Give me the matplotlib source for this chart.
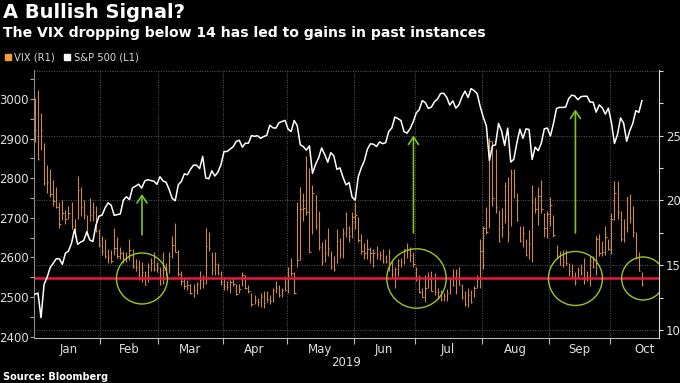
import matplotlib
matplotlib.use("Agg")
import matplotlib.pyplot as plt
import numpy as np
import pandas as pd

# ---------------- data (Dec 31 2018 .. Oct 15 2019, trading days) ----------------
spx_close = [
    2506.85,
    2510.03, 2447.89, 2531.94, 2549.69, 2574.41, 2584.96, 2596.64, 2596.26, 2582.61, 2610.30, 2616.10,
    2635.96, 2670.71, 2632.90, 2638.70, 2642.33, 2664.76, 2643.85, 2640.00, 2681.05, 2704.10,
    2706.53, 2724.87, 2737.70, 2731.61, 2706.05, 2707.88, 2709.80, 2744.73, 2753.03, 2745.73,
    2775.60, 2779.76, 2784.70, 2774.88, 2792.67, 2796.11, 2793.90, 2792.38, 2784.49,
    2803.69, 2792.81, 2789.65, 2771.45, 2748.93, 2743.07, 2783.30, 2791.52, 2810.92, 2808.48,
    2822.48, 2832.94, 2832.57, 2824.23, 2854.88, 2800.71, 2798.36, 2818.46, 2805.37, 2815.44, 2834.40,
    2867.19, 2867.24, 2873.40, 2879.39, 2892.74, 2895.77, 2878.20, 2888.21, 2888.32, 2907.41,
    2905.58, 2907.06, 2900.45, 2905.03, 2907.97, 2933.68, 2927.25, 2926.17, 2939.88, 2943.03, 2945.83,
    2923.73, 2917.52, 2945.64, 2932.47, 2884.05, 2879.42, 2870.72, 2881.40, 2811.87, 2834.41, 2850.96,
    2876.32, 2859.53, 2840.23, 2864.36, 2856.27, 2822.24, 2826.06, 2802.39, 2783.02, 2788.86, 2752.06,
    2744.45, 2803.27, 2826.15, 2843.49, 2873.34, 2886.73, 2885.72, 2879.84, 2891.64, 2886.98,
    2889.67, 2917.75, 2926.46, 2954.18, 2950.46, 2945.35, 2917.38, 2913.78, 2924.92, 2941.76,
    2964.33, 2973.01, 2995.82, 2990.41, 2975.95, 2979.63, 2993.07, 2999.91, 3013.77, 3014.30, 3004.04,
    2984.42, 2995.11, 2976.61, 2985.03, 3005.47, 3019.56, 3003.67, 3025.86, 3020.97, 3013.18, 2980.38,
    2953.56, 2932.05, 2844.74, 2881.77, 2883.98, 2938.09, 2918.65, 2882.70, 2926.32, 2840.60, 2847.60,
    2888.68, 2923.65, 2900.51, 2924.43, 2922.95, 2847.11, 2878.38, 2869.16, 2887.94, 2924.58, 2926.46,
    2906.27, 2937.78, 2976.00, 2978.71, 2978.43, 2979.39, 3000.93, 3009.57, 3007.39, 2997.96,
    3005.70, 3006.73, 3006.79, 2992.07, 2991.78, 2966.60, 2984.87, 2977.62, 2961.79, 2976.74,
    2940.25, 2887.61, 2910.63, 2952.01, 2938.79, 2893.06, 2919.40, 2938.13, 2970.27, 2966.15, 2995.68,
]

vix_high = [
    27.9,
    28.5, 26.7, 24.4, 22.7, 22.4, 21.6, 21.0, 19.9, 20.0, 19.3, 19.6, 19.9, 18.6, 21.9, 21.0, 20.0, 18.9, 20.2, 19.9, 19.6, 17.8,
    17.3, 17.0, 16.3, 16.2, 17.9, 17.2, 16.4, 16.1, 16.0, 17.0, 16.3, 15.5, 15.4, 15.3, 14.6, 15.2, 15.6, 16.0, 15.3,
    14.9, 16.0, 15.2, 16.0, 17.3, 18.3, 16.2, 14.6, 14.0, 13.9, 13.6, 13.6, 13.7, 14.6, 14.3, 17.9, 17.6, 16.0, 16.0, 15.2, 14.6,
    14.1, 13.8, 13.9, 14.0, 13.6, 13.6, 14.5, 14.3, 13.5, 12.9, 12.7, 12.5, 12.9, 13.0, 13.0, 12.7, 13.3, 13.8, 13.5, 13.3, 14.2,
    14.9, 15.6, 14.5, 19.9, 21.0, 20.6, 23.4, 22.5, 21.2, 20.4, 19.2, 16.8, 17.0, 17.9, 16.1, 15.7, 17.8, 17.1, 17.9, 19.1, 18.0, 19.1,
    19.9, 18.7, 17.4, 16.7, 17.0, 16.4, 16.3, 16.5, 16.1, 16.3, 15.8, 16.3, 15.4, 14.9, 15.5, 15.6, 16.3, 16.7, 16.4, 16.0,
    14.9, 14.3, 13.3, 14.3, 14.5, 14.6, 14.4, 13.3, 13.1, 12.9, 13.2, 14.0, 14.7, 14.7, 14.9, 13.6, 13.0, 13.3, 13.1, 13.4, 14.3, 17.0,
    18.0, 19.5, 24.8, 24.6, 24.0, 19.3, 19.4, 21.4, 21.8, 22.4, 22.4, 20.6, 18.0, 18.0, 17.0, 17.7, 21.2, 20.3, 21.0, 21.6, 19.0, 19.2,
    20.3, 18.9, 16.6, 16.1, 16.2, 16.2, 15.2, 15.1, 14.5, 14.9, 15.1, 15.6, 14.6, 15.7, 15.7, 17.3, 17.4, 16.9, 18.0, 17.0,
    19.0, 21.5, 21.5, 19.2, 18.6, 20.3, 20.5, 19.6, 17.6, 16.0, 14.5,
]

vix_low = [
    24.5,
    23.1, 23.9, 21.2, 20.6, 20.3, 19.6, 19.4, 17.9, 18.5, 18.2, 18.6, 17.8, 17.2, 18.6, 18.8, 18.6, 17.3, 18.4, 18.4, 17.6, 16.4,
    15.8, 15.6, 15.2, 15.2, 15.8, 15.6, 15.5, 15.2, 15.3, 15.4, 14.8, 14.6, 13.9, 13.7, 13.5, 13.7, 14.6, 14.6, 14.5,
    13.5, 13.6, 14.2, 14.4, 15.6, 16.0, 14.2, 13.5, 13.2, 13.1, 12.8, 12.6, 12.8, 13.2, 13.3, 13.6, 16.1, 14.3, 14.3, 14.3, 13.5,
    13.1, 13.1, 12.9, 13.4, 12.7, 12.9, 13.4, 13.2, 12.9, 11.9, 12.0, 11.9, 11.8, 11.7, 12.2, 12.0, 12.2, 12.9, 12.6, 12.6, 13.0,
    12.9, 14.2, 12.8, 14.9, 15.4, 18.4, 18.9, 16.0, 17.4, 17.8, 16.2, 15.0, 15.3, 15.7, 14.7, 14.6, 15.2, 15.6, 15.6, 17.2, 16.8, 17.1,
    17.8, 16.8, 15.9, 15.5, 15.5, 15.2, 14.9, 15.5, 15.4, 15.2, 15.2, 14.6, 14.0, 13.3, 14.2, 14.9, 15.1, 15.6, 15.3, 14.9,
    13.8, 12.9, 12.6, 12.2, 13.3, 13.0, 12.7, 12.4, 12.3, 12.3, 12.3, 12.8, 13.4, 12.8, 13.5, 12.4, 11.9, 11.8, 12.1, 12.6, 13.3, 13.3,
    14.7, 17.4, 17.9, 19.6, 19.0, 16.8, 17.2, 18.3, 16.8, 18.0, 20.2, 18.4, 16.8, 16.4, 15.7, 15.5, 15.3, 19.0, 18.1, 19.0, 17.2, 17.1,
    18.0, 17.2, 15.5, 15.0, 14.9, 15.0, 14.2, 14.0, 13.5, 14.0, 14.3, 13.6, 13.8, 13.4, 14.8, 14.3, 15.7, 15.7, 15.8, 16.2,
    15.9, 18.5, 18.6, 16.9, 16.8, 17.6, 18.3, 17.2, 15.5, 14.6, 13.4,
]

vix_close = [
    25.42,
    23.22, 25.45, 21.38, 21.40, 20.47, 19.98, 19.50, 18.19, 19.07, 18.60, 19.04, 18.06, 17.80, 20.80, 19.52, 18.89, 17.42, 18.87, 19.13, 17.66, 16.57,
    16.14, 15.73, 15.57, 15.38, 16.37, 15.72, 15.97, 15.43, 15.65, 16.22, 14.91, 14.88, 14.02, 14.46, 13.51, 14.85, 15.17, 14.70, 14.78,
    13.57, 14.63, 14.74, 15.74, 16.59, 16.05, 14.33, 13.77, 13.41, 13.50, 12.88, 13.10, 13.56, 13.91, 13.63, 16.48, 16.33, 14.68, 15.15, 14.43, 13.71,
    13.40, 13.36, 13.74, 13.58, 12.82, 13.18, 14.28, 13.30, 13.02, 12.01, 12.32, 12.18, 12.60, 12.09, 12.42, 12.28, 13.14, 13.25, 12.73, 13.11, 13.12,
    14.80, 14.42, 12.87, 15.44, 19.32, 19.40, 19.10, 16.04, 20.55, 18.06, 16.44, 15.29, 15.96, 16.31, 14.95, 14.75, 16.92, 15.85, 17.50, 17.90, 17.30, 18.71,
    18.86, 16.97, 16.09, 15.93, 16.30, 15.94, 15.99, 15.91, 15.82, 15.28, 15.35, 15.15, 14.33, 14.75, 15.40, 15.26, 16.28, 16.21, 15.82, 15.08,
    14.06, 12.93, 12.57, 13.28, 13.96, 13.03, 12.93, 12.93, 12.39, 12.68, 12.86, 13.97, 13.53, 14.45, 13.53, 12.61, 12.07, 12.74, 12.16, 13.24, 13.94, 16.12,
    17.87, 17.61, 24.59, 20.17, 19.49, 16.91, 17.97, 21.09, 17.52, 22.10, 21.18, 18.47, 16.88, 17.50, 15.80, 16.68, 19.87, 19.32, 20.31, 19.35, 17.88, 18.98,
    19.66, 17.33, 15.82, 15.00, 15.27, 15.20, 14.61, 14.22, 13.74, 14.67, 14.44, 13.95, 14.05, 15.32, 14.91, 17.05, 15.96, 16.07, 17.22, 16.24,
    18.56, 20.56, 19.12, 17.04, 17.86, 20.28, 18.64, 17.57, 15.58, 14.57, 13.54,
]

month_labels = ["Jan", "Feb", "Mar", "Apr", "May", "Jun", "Jul", "Aug", "Sep", "Oct"]
vix_threshold = 14
holidays = ["2019-01-01", "2019-01-21", "2019-02-18", "2019-04-19",
            "2019-05-27", "2019-07-04", "2019-09-02"]

# annotation placement (trading-day index, VIX units)
circle_days = [35.1, 125.1, 177.2, 199.4]
circle_radius_px = [25.5, 29.7, 27.0, 21.5]
arrow_days = [35.1, 124.1, 177.2]
arrow_from = [17.35, 17.5, 17.5]
arrow_to = [20.5, 25.0, 27.0]

# ---------------- figure ----------------
BG = "black"
W, H = 680, 383
fig = plt.figure(figsize=(W / 100, H / 100), dpi=100, facecolor=BG)
L, R, T, B = 34, 659, 70, 338
ax_v = fig.add_axes([L / W, (H - B) / H, (R - L) / W, (B - T) / H])
ax_v.set_facecolor(BG)
ax_s = ax_v.twinx()

trading = pd.bdate_range("2018-12-31", "2019-10-31", freq="C", holidays=holidays)
n = len(spx_close)
x = np.arange(n)
tr_month = np.array(trading.month)
tr_year = np.array(trading.year)
idx_all = np.arange(len(trading))
bounds, label_pos = [], []
for m in range(1, 11):
    sel = idx_all[(tr_year == 2019) & (tr_month == m)]
    if m > 1:
        bounds.append(sel[0] - 0.5)
    label_pos.append(sel.mean())

# VIX OHLC-style bars
vcol = "#c98a4c"
ax_v.vlines(x, vix_low, vix_high, color=vcol, lw=0.8, zorder=3)
ax_v.hlines(vix_close, x, x + 0.45, color=vcol, lw=0.8, zorder=3)

# threshold line
ax_v.axhline(vix_threshold, color="#e8193c", lw=1.8, zorder=5)

# circles
sizes = [(2 * r * 0.72) ** 2 for r in circle_radius_px]
ax_v.scatter(circle_days, [vix_threshold] * len(circle_days), s=sizes,
             facecolors="none", edgecolors="#9cc820", linewidths=1.0, zorder=6)

# arrows
for xd, y0, y1 in zip(arrow_days, arrow_from, arrow_to):
    ax_v.annotate("", xy=(xd, y1), xytext=(xd, y0),
                  arrowprops=dict(arrowstyle="->,head_length=0.45,head_width=0.3",
                                  color="#7cc61e", lw=1.2, mutation_scale=12,
                                  shrinkA=0, shrinkB=0), zorder=7)

# S&P line
ax_s.plot(x, spx_close, color="white", lw=1.1, zorder=4)

# limits
ax_v.set_xlim(-0.3, 204.6)
ax_v.set_ylim(9.42, 30.04)
ax_s.set_ylim(2396.5, 3073)

# grid
grid_kw = dict(color="#5a5a5a", lw=0.7, ls=(0, (1, 1.5)))
for b in bounds:
    ax_v.axvline(b, zorder=1, **grid_kw)
for yv in [10, 15, 20, 25, 30]:
    ax_v.axhline(yv, zorder=1, **grid_kw)

# x ticks
ax_v.set_xticks(bounds)
ax_v.set_xticklabels([])
ax_v.set_xticks(label_pos, minor=True)
ax_v.set_xticklabels(month_labels, minor=True)
ax_v.tick_params(axis="x", which="major", length=4, width=0.8, color="#bbbbbb", direction="out")
ax_v.tick_params(axis="x", which="minor", length=0, pad=3.5, labelsize=8.5, labelcolor="#e0e0e0")

# right (VIX) axis
ax_v.yaxis.tick_right()
ax_v.set_yticks([10, 15, 20, 25])
ax_v.set_yticks([12.5, 17.5, 22.5, 27.5, 30], minor=True)
ax_v.tick_params(axis="y", which="both", length=3, width=0.8, color="#dddddd",
                 labelsize=8.5, labelcolor="#e0e0e0", pad=2)

# left (S&P) axis
ax_s.yaxis.tick_left()
ax_s.set_yticks(np.arange(2400, 3001, 100))
ax_s.set_yticks(np.arange(2450, 3051, 100), minor=True)
ax_s.tick_params(axis="y", which="both", length=3, width=0.8, color="#aaaaaa",
                 labelsize=8.5, labelcolor="#e0e0e0", pad=1)

for a in (ax_v, ax_s):
    a.spines["top"].set_visible(False)
ax_v.spines["left"].set_visible(False)
ax_v.spines["right"].set_visible(False)
ax_v.spines["bottom"].set_color("#bbbbbb")
ax_s.spines["bottom"].set_visible(False)
ax_s.spines["left"].set_color("#8a8a8a")
ax_s.spines["right"].set_color("#dddddd")
ax_s.spines["left"].set_linewidth(0.8)
ax_s.spines["right"].set_linewidth(0.8)

# texts
fig.text(3 / W, 1 - 13 / H, "A Bullish Signal?", color="white", fontsize=14,
         fontweight="bold", va="center", ha="left")
fig.text(3 / W, 1 - 32.5 / H, "The VIX dropping below 14 has led to gains in past instances",
         color="white", fontsize=10.1, fontweight="bold", va="center", ha="left")
fig.patches.append(plt.Rectangle((5 / W, 1 - 60 / H), 6 / W, 6 / H, color="#f0a030",
                                 transform=fig.transFigure, figure=fig))
fig.text(14 / W, 1 - 57 / H, "VIX (R1)", color="#d8d8d8", fontsize=7.2, va="center", ha="left")
fig.patches.append(plt.Rectangle((64 / W, 1 - 60 / H), 6 / W, 6 / H, color="white",
                                 transform=fig.transFigure, figure=fig))
fig.text(74 / W, 1 - 57 / H, "S&P 500 (L1)", color="#d8d8d8", fontsize=7.2, va="center", ha="left")
fig.text(((L + R) / 2) / W, 1 - 363 / H, "2019", color="#e0e0e0", fontsize=8.5,
         va="center", ha="center")
fig.text(3 / W, 1 - 377 / H, "Source: Bloomberg", color="white", fontsize=7,
         fontweight="bold", va="center", ha="left")

fig.savefig("out.png", dpi=100, facecolor=BG)
